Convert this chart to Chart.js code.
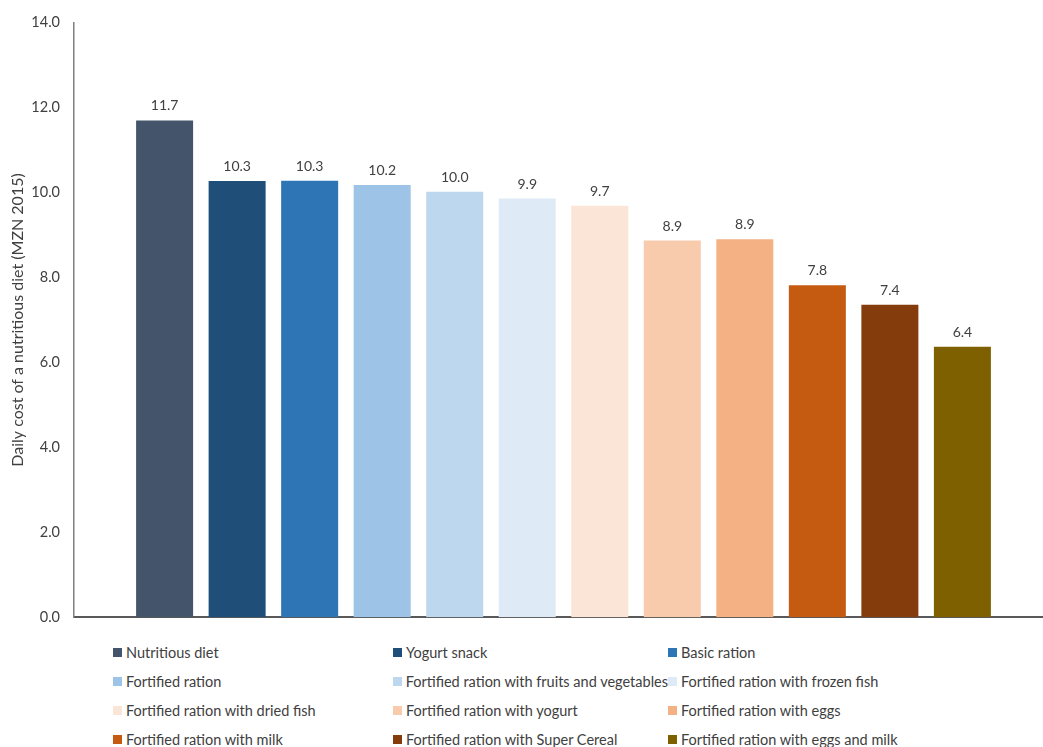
<!DOCTYPE html>
<html>
<head>
<meta charset="utf-8">
<script src="https://cdn.jsdelivr.net/npm/chart.js@4"></script>
<style>
  html, body { margin: 0; padding: 0; background: #fff; overflow: hidden; }
  #wrap { position: relative; width: 1053px; height: 640px; }
  #legend { position: absolute; left: 113px; top: 643px; display: grid;
    grid-template-columns: 280px 275px 300px; row-gap: 10px;
    font: 14.5px Lato, sans-serif; color: #404040; }
  #legend div { display: flex; align-items: center; height: 19px; white-space: nowrap; }
  #legend span.box { display: inline-block; width: 9px; height: 9px; margin-right: 4px; }
</style>
</head>
<body>
<div id="wrap"><canvas id="chart"></canvas></div>
<div id="legend"></div>
<script>
const seriesNames = [
  "Nutritious diet",
  "Yogurt snack",
  "Basic ration",
  "Fortified ration",
  "Fortified ration with fruits and vegetables",
  "Fortified ration with frozen fish",
  "Fortified ration with dried fish",
  "Fortified ration with yogurt",
  "Fortified ration with eggs",
  "Fortified ration with milk",
  "Fortified ration with Super Cereal",
  "Fortified ration with eggs and milk",
];
const seriesValues = [11.70, 10.27, 10.28, 10.18, 10.02, 9.86, 9.69, 8.87, 8.90, 7.82, 7.36, 6.37];
const seriesColors = [
  "#44546A", "#1F4E79", "#2E75B6", "#9DC3E6", "#BDD7EE", "#DEEBF7",
  "#FBE5D6", "#F8CBAD", "#F4B183", "#C55A11", "#843C0C", "#7F6000",
];
const yTicks = [0, 2, 4, 6, 8, 10, 12, 14];

// etiquetas encima de cada barra
const valueLabels = {
  id: "valueLabels",
  afterDatasetsDraw(chart) {
    const ctx = chart.ctx;
    ctx.save();
    ctx.font = "14px Lato, sans-serif";
    ctx.fillStyle = "#404040";
    ctx.textAlign = "center";
    ctx.textBaseline = "alphabetic";
    chart.data.datasets.forEach((ds, i) => {
      const bar = chart.getDatasetMeta(i).data[0];
      ctx.fillText(ds.data[0].toFixed(1), bar.x, bar.y - 10);
    });
    ctx.restore();
  },
};

const datasets = seriesNames.map((name, i) => ({
  label: name,
  data: [seriesValues[i]],
  backgroundColor: seriesColors[i],
  borderWidth: 0,
  categoryPercentage: 0.889,
  barPercentage: 0.786,
}));

new Chart(document.getElementById("chart"), {
  type: "bar",
  data: { labels: [""], datasets },
  plugins: [valueLabels],
  options: {
    responsive: true,
    maintainAspectRatio: false,
    animation: false,
    layout: { padding: { left: 6, top: 19, right: 0, bottom: 0 } },
    plugins: { legend: { display: false }, tooltip: { enabled: false } },
    scales: {
      x: {
        afterFit: (axis) => { axis.height = 1; },
        grid: { display: false, drawTicks: false },
        border: { color: "#595959", width: 2 },
        ticks: { display: false },
      },
      y: {
        min: 0,
        max: 14,
        afterBuildTicks: (axis) => { axis.ticks = yTicks.map((v) => ({ value: v })); },
        afterFit: (axis) => { axis.width = 68; },
        grid: { display: false, drawTicks: false },
        border: { color: "#7f7f7f", width: 1.5 },
        ticks: {
          padding: 14,
          color: "#404040",
          font: { family: "Lato, sans-serif", size: 14.5 },
          callback: (v) => Number(v).toFixed(1),
        },
        title: {
          display: true,
          text: "Daily cost of a nutritious diet (MZN 2015)",
          color: "#404040",
          font: { family: "Lato, sans-serif", size: 16 },
          padding: { top: 2, bottom: 4 },
        },
      },
    },
  },
});

// leyenda en tres columnas
const legend = document.getElementById("legend");
seriesNames.forEach((name, i) => {
  const item = document.createElement("div");
  item.innerHTML = '<span class="box" style="background:' + seriesColors[i] + '"></span>' + name;
  legend.appendChild(item);
});
</script>
</body>
</html>
